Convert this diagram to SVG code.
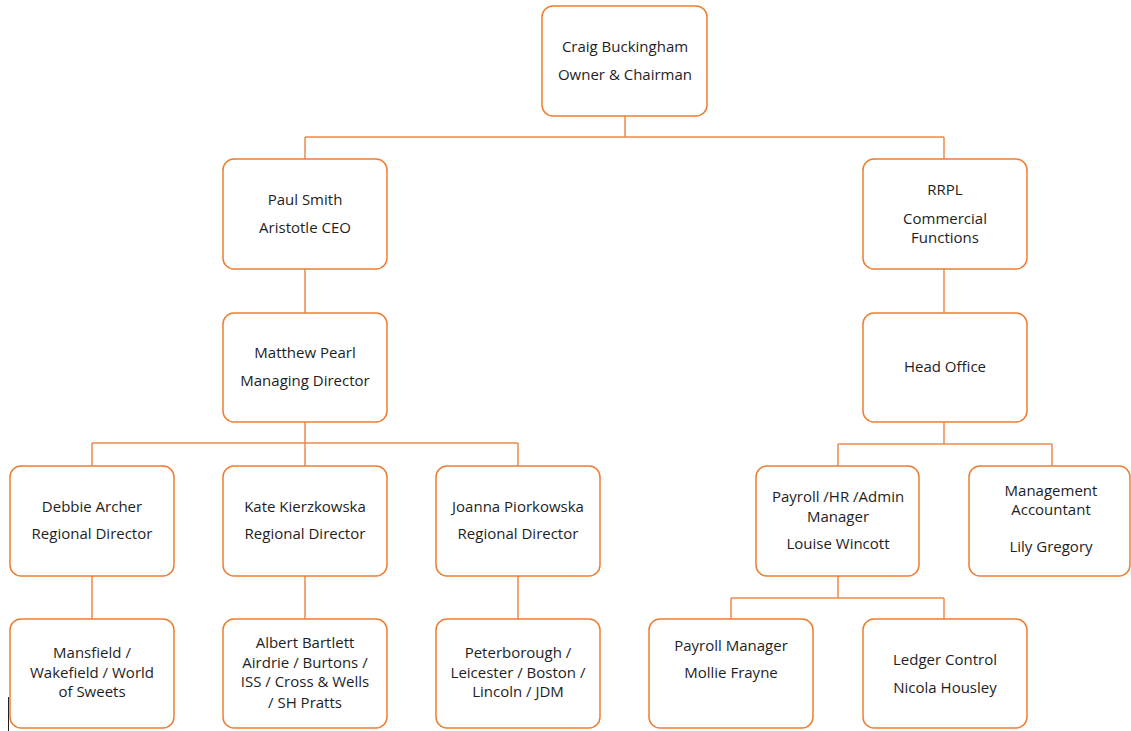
<svg xmlns="http://www.w3.org/2000/svg" width="1131" height="731" viewBox="0 0 1131 731">
<style>
.box{fill:#fff;stroke:#ED7D31;stroke-width:1.5}
.c{fill:none;stroke:#EE8A4E;stroke-width:1.5}
text{font-family:"Open Sans","Liberation Sans",sans-serif;font-size:15px;fill:#1e1e1e;text-anchor:middle}
</style>
<rect width="1131" height="731" fill="#fff"/>
<g id="connectors">
<path class="c" d="M625 116V137M305 137H944M305 137V159M944 137V159"/>
<path class="c" d="M305 269V313M944 269V313"/>
<path class="c" d="M305 422V443M92 443H518M92 443V466M305 443V466M518 443V466"/>
<path class="c" d="M944 422V444M838 444H1052M838 444V466M1052 444V466"/>
<path class="c" d="M92 576V619M305 576V619M518 576V619"/>
<path class="c" d="M838 576V598M731 598H944M731 598V619M944 598V619"/>
</g>
<g id="craig"><rect class="box" x="542" y="6" width="165" height="110" rx="11"/><text x="625" y="52">Craig Buckingham</text><text x="625" y="80">Owner &amp; Chairman</text></g>
<g id="paul"><rect class="box" x="223" y="159" width="164" height="110" rx="11"/><text x="305" y="205">Paul Smith</text><text x="305" y="233">Aristotle CEO</text></g>
<g id="rrpl"><rect class="box" x="863" y="159" width="164" height="110" rx="11"/><text x="945" y="195">RRPL</text><text x="945" y="224">Commercial</text><text x="945" y="243">Functions</text></g>
<g id="matthew"><rect class="box" x="223" y="313" width="164" height="109" rx="11"/><text x="305" y="358">Matthew Pearl</text><text x="305" y="386">Managing Director</text></g>
<g id="headoffice"><rect class="box" x="863" y="313" width="164" height="109" rx="11"/><text x="945" y="372">Head Office</text></g>
<g id="debbie"><rect class="box" x="10" y="466" width="164" height="110" rx="11"/><text x="92" y="512">Debbie Archer</text><text x="92" y="539">Regional Director</text></g>
<g id="kate"><rect class="box" x="223" y="466" width="164" height="110" rx="11"/><text x="305" y="512">Kate Kierzkowska</text><text x="305" y="539">Regional Director</text></g>
<g id="joanna"><rect class="box" x="436" y="466" width="164" height="110" rx="11"/><text x="518" y="512">Joanna Piorkowska</text><text x="518" y="539">Regional Director</text></g>
<g id="payrollhr"><rect class="box" x="756" y="466" width="163" height="110" rx="11"/><text x="838" y="502">Payroll /HR /Admin</text><text x="838" y="522">Manager</text><text x="838" y="549">Louise Wincott</text></g>
<g id="mgmtacc"><rect class="box" x="969" y="466" width="161" height="110" rx="11"/><text x="1051" y="496">Management</text><text x="1051" y="515">Accountant</text><text x="1051" y="552">Lily Gregory</text></g>
<g id="mansfield"><rect class="box" x="10" y="619" width="164" height="109" rx="11"/><text x="92" y="658">Mansfield /</text><text x="92" y="678">Wakefield / World</text><text x="92" y="697">of Sweets</text></g>
<g id="albert"><rect class="box" x="223" y="619" width="164" height="109" rx="11"/><text x="305" y="648">Albert Bartlett</text><text x="305" y="668">Airdrie / Burtons /</text><text x="305" y="687">ISS / Cross &amp; Wells</text><text x="305" y="708">/ SH Pratts</text></g>
<g id="peterborough"><rect class="box" x="436" y="619" width="164" height="109" rx="11"/><text x="518" y="658">Peterborough /</text><text x="518" y="678">Leicester / Boston /</text><text x="518" y="697">Lincoln / JDM</text></g>
<g id="payrollmgr"><rect class="box" x="649" y="619" width="164" height="109" rx="11"/><text x="731" y="651">Payroll Manager</text><text x="731" y="678">Mollie Frayne</text></g>
<g id="ledger"><rect class="box" x="863" y="619" width="164" height="109" rx="11"/><text x="945" y="665">Ledger Control</text><text x="945" y="693">Nicola Housley</text></g>
<line x1="8.5" y1="697" x2="8.5" y2="731" stroke="#222" stroke-width="1"/>
</svg>
